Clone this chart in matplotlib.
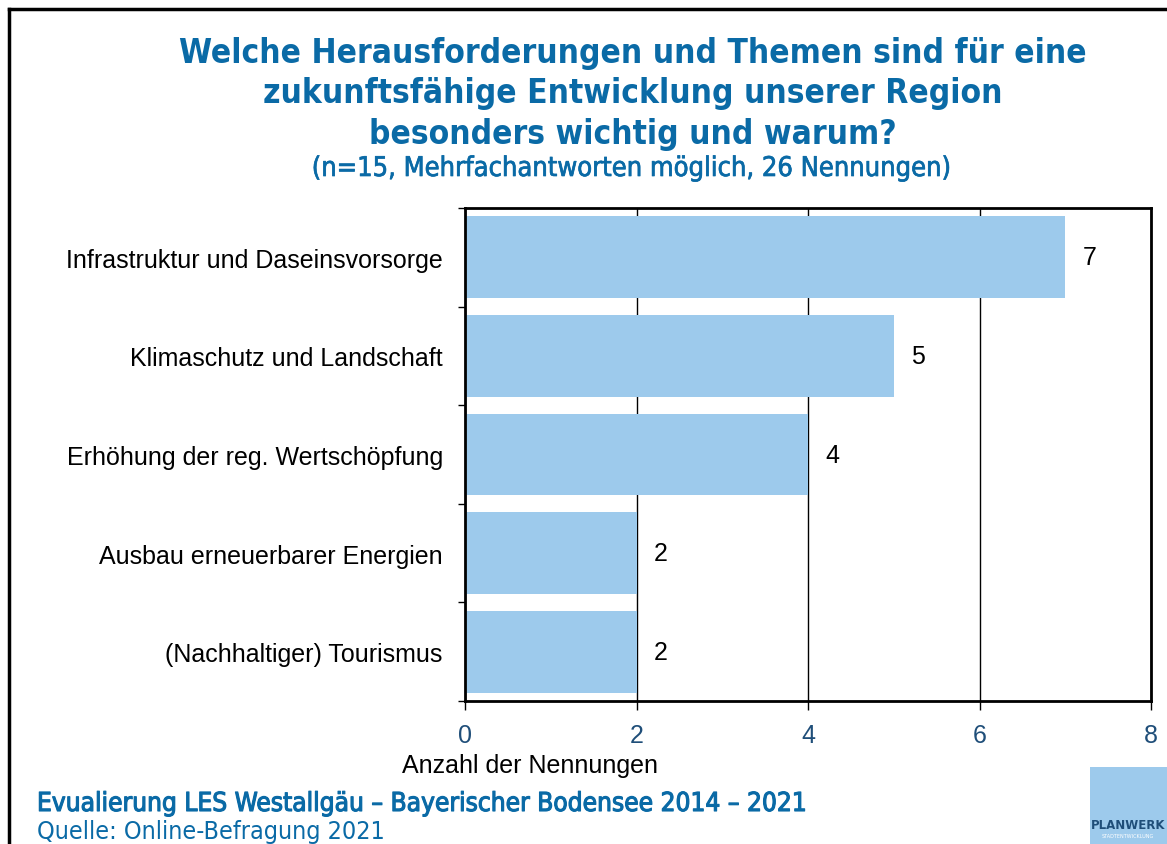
import matplotlib.pyplot as plt
import matplotlib.patheffects as pe
from matplotlib.patches import Rectangle
from matplotlib.lines import Line2D

categories = [
    "Infrastruktur und Daseinsvorsorge",
    "Klimaschutz und Landschaft",
    "Erhöhung der reg. Wertschöpfung",
    "Ausbau erneuerbarer Energien",
    "(Nachhaltiger) Tourismus",
]
counts = [7, 5, 4, 2, 2]
x_ticks = [0, 2, 4, 6, 8]

BAR_COLOR = "#9dcaec"
TITLE_BLUE = "#0a6aa6"
TICK_BLUE = "#1f4e79"
ARIAL = "Liberation Sans"

fig = plt.figure(figsize=(11.67, 8.45), dpi=100)
W, H = 1167, 845

# Rahmen oben und links
fig.add_artist(Line2D([9 / W, 1], [1 - 10 / H, 1 - 10 / H], color="black", lw=2.5))
fig.add_artist(Line2D([9 / W, 9 / W], [0, 1 - 10 / H], color="black", lw=2.5))

ax = fig.add_axes([465 / W, 1 - 702 / H, (1151 - 465) / W, (702 - 209) / H])
y = list(range(len(categories)))
ax.barh(y, counts, height=0.83, color=BAR_COLOR, zorder=2)
ax.set_ylim(len(categories) - 0.5, -0.5)
ax.set_xlim(0, 8)
ax.set_xticks(x_ticks)
ax.set_xticklabels([str(t) for t in x_ticks], fontsize=18, color=TICK_BLUE,
                   family=ARIAL)
ax.set_yticks([i - 0.5 for i in range(len(categories) + 1)], minor=False)
ax.set_yticklabels([])
ax.set_yticks(y, minor=True)
ax.set_yticklabels(categories, minor=True, fontsize=18, family=ARIAL)
ax.tick_params(axis="y", which="minor", length=0, pad=16)
ax.tick_params(axis="y", which="major", length=5, width=1, direction="out")
ax.tick_params(axis="x", length=6.5, width=1, direction="out", pad=9)
ax.grid(axis="x", color="black", lw=1, zorder=1)
for s in ax.spines.values():
    s.set_linewidth(2)
    s.set_color("black")

for yi, v in zip(y, counts):
    ax.text(v + 0.2, yi, str(v), va="center", ha="left", fontsize=18,
            family=ARIAL)

fig.text(530 / W, 1 - 766 / H, "Anzahl der Nennungen", ha="center", va="center",
         fontsize=18, family=ARIAL)

fig.text(633 / W, 1 - 94 / H,
         "Welche Herausforderungen und Themen sind für eine\n"
         "zukunftsfähige Entwicklung unserer Region\n"
         "besonders wichtig und warum?",
         ha="center", va="center", fontsize=24, fontweight="bold",
         fontstretch="condensed", color=TITLE_BLUE, linespacing=1.3)
fig.text(633 / W, 1 - 170 / H, "(n=15, Mehrfachantworten möglich, 26 Nennungen)",
         ha="center", va="center", fontsize=19.5, fontstretch="condensed",
         color=TITLE_BLUE,
         path_effects=[pe.withStroke(linewidth=0.5, foreground=TITLE_BLUE)])

fig.text(37 / W, 1 - 805 / H,
         "Evualierung LES Westallgäu – Bayerischer Bodensee 2014 – 2021",
         ha="left", va="center", fontsize=18.8, fontstretch="condensed",
         color=TITLE_BLUE,
         path_effects=[pe.withStroke(linewidth=0.8, foreground=TITLE_BLUE)])
fig.text(37 / W, 1 - 832 / H, "Quelle: Online-Befragung 2021",
         ha="left", va="center", fontsize=18, fontstretch="condensed",
         color=TITLE_BLUE)

# Logo
fig.add_artist(Rectangle((1090 / W, 0), 77 / W, 77 / H, transform=fig.transFigure,
                         color=BAR_COLOR, lw=0))
fig.text(1128 / W, 1 - 826 / H, "PLANWERK", ha="center", va="center",
         fontsize=8.5, fontweight="bold", color=TICK_BLUE)
fig.text(1128 / W, 1 - 837 / H, "STADTENTWICKLUNG", ha="center", va="center",
         fontsize=3.5, color="white")

fig.savefig("out.png", dpi=100)
